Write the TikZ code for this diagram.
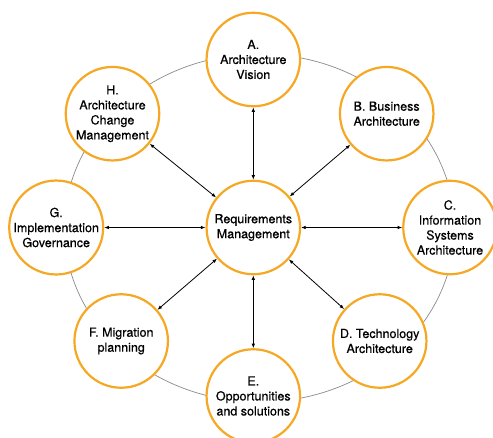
\documentclass[tikz,border=0pt]{standalone}
\usepackage{fontspec}
\setmainfont{TeX Gyre Heros}[FakeBold=0.5]
\usetikzlibrary{arrows.meta}
\definecolor{ringorange}{HTML}{F6A824}
\definecolor{ringgray}{HTML}{8A8A8A}
\begin{document}
\begin{tikzpicture}[x=1pt,y=-1pt,
  phase/.style={circle, draw=ringorange, line width=2.2pt, fill=white,
    minimum size=93.5pt, inner sep=0pt, align=center,
    font=\fontsize{12.5}{15}\selectfont, text=black},
  link/.style={{Latex[length=4.5pt,width=3.6pt]}-{Latex[length=4.5pt,width=3.6pt]}, line width=0.8pt, black}]
\useasboundingbox (0,0) rectangle (493,437);
\clip (0,0) rectangle (493,437);
\fill[white] (0,0) rectangle (493,437);
\draw[ringgray, line width=0.7pt] (259.5,228) ellipse [x radius=195pt, y radius=174pt];
\node[phase] (R) at (253.3,227.5) {Requirements\\Management};
\node[phase] (A) at (253.3,59.5) {A.\\Architecture\\Vision};
\node[phase] (B) at (386.7,113.7) {B. Business\\Architecture};
\node[phase] (C) at (450,227.5) {C.\\Information\\Systems\\Architecture};
\node[phase] (D) at (379.7,341) {D. Technology\\Architecture};
\node[phase] (E) at (253.3,396) {E.\\Opportunities\\and solutions};
\node[phase] (F) at (121.2,341) {F. Migration\\planning};
\node[phase] (G) at (56.2,227.5) {G.\\Implementation\\Governance};
\node[phase] (H) at (112.5,113.7) {H.\\Architecture\\Change\\Management};
\foreach \n in {A,B,C,D,E,F,G,H}{
  \draw[link] (\n) -- (R);
}
\end{tikzpicture}
\end{document}
